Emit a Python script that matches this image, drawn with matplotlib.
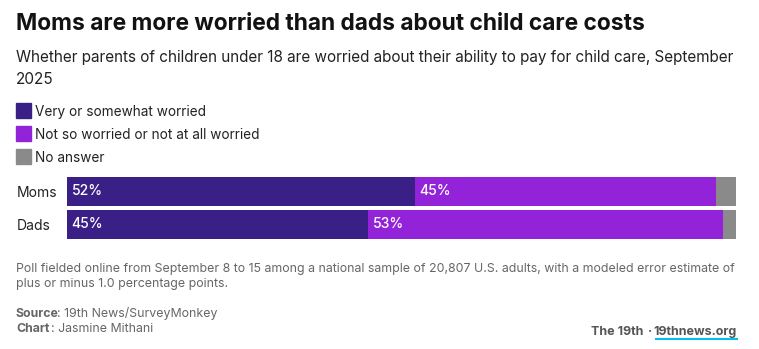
import matplotlib.pyplot as plt
from matplotlib.patches import Rectangle

groups = ["Moms", "Dads"]
worried = [52, 45]
not_worried = [45, 53]
no_answer = [3, 2]
series_names = ["Very or somewhat worried", "Not so worried or not at all worried", "No answer"]
colors = ["#3a1f86", "#9323d8", "#8a8a8a"]

W, H = 759, 349
plt.rcParams["font.family"] = ["Inter", "DejaVu Sans"]

fig = plt.figure(figsize=(W / 100, H / 100), dpi=100)


def px(x, y):
    return x / W, 1 - y / H


def text(x, y, s, **kw):
    fig.text(*px(x, y), s, va="baseline", **kw)


text(16, 30, "Moms are more worried than dads about child care costs",
     fontsize=16.4, fontweight="bold", color="#121212")
text(16, 62, "Whether parents of children under 18 are worried about their ability to pay for child care, September",
     fontsize=11, color="#222222")
text(16, 84, "2025", fontsize=11, color="#222222")

# legend
for i, (name, c) in enumerate(zip(series_names, colors)):
    top = 103 + i * 23
    fig.patches.append(Rectangle(px(16, top + 15), 15 / W, 15 / H, color=c,
                                 transform=fig.transFigure, figure=fig))
    text(35, top + 13, name, fontsize=9.8, color="#222222")

# bars
ax = fig.add_axes([67 / W, 1 - 241 / H, 669 / W, 66 / H])
ypos = [0, 1]
left = [0, 0]
for vals, c in zip([worried, not_worried, no_answer], colors):
    ax.barh(ypos, vals, left=left, height=0.88, color=c, linewidth=0)
    if c != colors[2]:
        for y, l, v in zip(ypos, left, vals):
            ax.text(l + 0.7, y, f"{v}%", color="white", fontsize=10,
                    fontweight="medium", va="center", ha="left")
    left = [l + v for l, v in zip(left, vals)]
ax.set_xlim(0, 100)
ax.set_ylim(1.5, -0.5)
ax.set_yticks(ypos)
ax.set_yticklabels(groups, fontsize=10, color="#222222", ha="left")
ax.tick_params(left=False, bottom=False, labelbottom=False, pad=32.5)
for s in ax.spines.values():
    s.set_visible(False)

# notes
note_kw = dict(fontsize=8.9, color="#666666")
text(16, 272, "Poll fielded online from September 8 to 15 among a national sample of 20,807 U.S. adults, with a modeled error estimate of", **note_kw)
text(16, 287, "plus or minus 1.0 percentage points.", **note_kw)
text(16, 317, "Source", fontweight="bold", **note_kw)
text(57, 317, ": 19th News/SurveyMonkey", **note_kw)
text(16, 332, "Chart", fontweight="bold", **note_kw)
text(51, 332, ": Jasmine Mithani", **note_kw)

foot_kw = dict(fontsize=9, fontweight="bold", color="#555555")
text(737, 335, "19thnews.org", ha="right", **foot_kw)
text(643, 335, "The 19th", ha="right", **foot_kw)
text(650, 335, "\u00b7", ha="center", **foot_kw)
fig.add_artist(plt.Line2D([656 / W, 737 / W], [1 - 338.5 / H] * 2, color="#00c2e8", linewidth=1.5))

fig.savefig("out.png", dpi=100, facecolor="white")
